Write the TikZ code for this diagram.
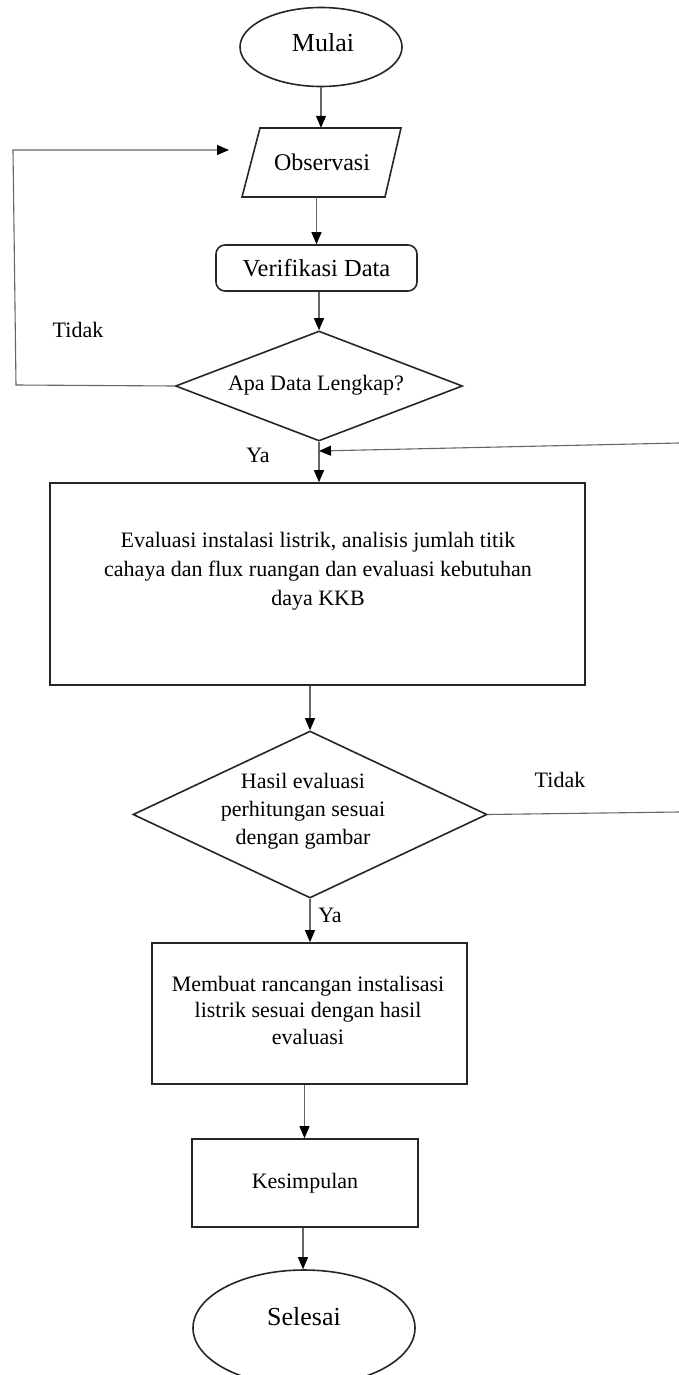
\documentclass[tikz,border=0pt]{standalone}
\usepackage{fontspec}
\setmainfont{Liberation Serif}
\usetikzlibrary{shapes.geometric,arrows.meta}

\tikzset{
  box/.style={draw=black!85, line width=1.6pt, rectangle, inner sep=0pt, align=center},
  term/.style={draw=black!85, line width=1.6pt, ellipse, inner sep=0pt},
  decision/.style={draw=black!85, line width=1.6pt, diamond, inner sep=0pt},
  conn/.style={draw=black!60, line width=1.1pt, -{Triangle[length=12pt,width=10pt,color=black]}},
  wire/.style={draw=black!60, line width=1.1pt},
  lbl/.style={inner sep=0pt, font=\fontsize{22}{26}\selectfont},
  bigtext/.style={inner sep=0pt, font=\fontsize{26}{30}\selectfont},
  midtext/.style={inner sep=0pt, font=\fontsize{24}{28}\selectfont}
}

\begin{document}
\begin{tikzpicture}[x=1pt,y=-1pt]
\useasboundingbox (0,0) rectangle (679,1375);

% start
\node[term, minimum width=162pt, minimum height=79pt] (mulai) at (321,47) {};
\node[bigtext] (mulaitxt) at (323,43) {Mulai};

% input: parallelogram drawn around a text node
\node[inner sep=0pt, minimum width=144pt, minimum height=69pt] (obs) at (321,162.5) {};
\node[midtext] (obstxt) at (322,162) {Observasi};
\draw[line width=1.6pt, draw=black!85] (242,197) -- (260,128) -- (401,128) -- (385,197) -- cycle;

% verification
\node[box, rounded corners=9pt, minimum width=201pt, minimum height=46pt, font=\fontsize{24.5}{28}\selectfont] (ver) at (316.5,268) {Verifikasi Data};

% first decision
\node[decision, minimum width=287pt, minimum height=110pt] (dec1) at (319,386) {};
\node[lbl] (dec1txt) at (316,385) {Apa Data Lengkap?};

% evaluation
\node[box, minimum width=535pt, minimum height=202pt] (eval) at (317.5,584) {};
\node[align=center, inner sep=0pt, font=\fontsize{22}{29}\selectfont] (evaltxt) at (318,571)
  {Evaluasi instalasi listrik, analisis jumlah titik\\
   cahaya dan flux ruangan dan evaluasi kebutuhan\\
   daya KKB};

% second decision
\node[decision, minimum width=354pt, minimum height=167pt] (dec2) at (310,814.5) {};
\node[align=center, inner sep=0pt, font=\fontsize{22}{28}\selectfont] (dec2txt) at (303,811)
  {Hasil evaluasi\\ perhitungan sesuai\\ dengan gambar};

% design
\node[box, minimum width=315pt, minimum height=141pt] (make) at (309.5,1013.5) {};
\node[align=center, inner sep=0pt, font=\fontsize{22}{26.5}\selectfont] (maketxt) at (308,1010)
  {Membuat rancangan instalisasi\\ listrik sesuai dengan hasil\\ evaluasi};

% conclusion
\node[box, minimum width=226pt, minimum height=88pt, font=\fontsize{22}{26}\selectfont] (kes) at (305,1183) {Kesimpulan};

% end (runs past the lower edge)
\node[term, minimum width=222pt, minimum height=116pt] (done) at (304,1328) {};
\node[bigtext] (donetxt) at (304,1317) {Selesai};

% loop and feedback points
\coordinate (loopA) at (16,385);
\coordinate (loopB) at (13,150);
\coordinate (loopIn) at (229,150);
\coordinate (fbR) at (679,443);
\coordinate (fbIn) at (319,451);
\coordinate (fbR2) at (679,812);

% main flow
\draw[conn] (mulai.south) -- (obs.north);
\draw[conn] (ver.north |- obs.south) -- (ver.north);
\draw[conn] (dec1.north |- ver.south) -- (dec1.north);
\draw[conn] (dec1.south) -- (eval.north -| dec1.south);
\draw[conn] (dec2.north |- eval.south) -- (dec2.north);
\draw[conn] (dec2.south) -- (make.north -| dec2.south);
\draw[conn] ([xshift=-5pt]make.south) -- ([xshift=-5pt]make.south |- kes.north);
\draw[conn] ([xshift=-2pt]kes.south) -- ([xshift=-2pt]kes.south |- done.north);

% "no" branch back to observation
\draw[conn] (dec1.west) -- (loopA) -- (loopB) -- (loopIn);
% "no" branch of the second decision, returning above the evaluation
\draw[wire] (dec2.east) -- (fbR2);
\draw[conn] (fbR) -- (fbIn);

% branch labels
\node[lbl] (tidak1) at (78,330) {Tidak};
\node[lbl] (ya1) at (258,455) {Ya};
\node[lbl] (tidak2) at (560,780) {Tidak};
\node[lbl] (ya2) at (330,915) {Ya};
\end{tikzpicture}
\end{document}
